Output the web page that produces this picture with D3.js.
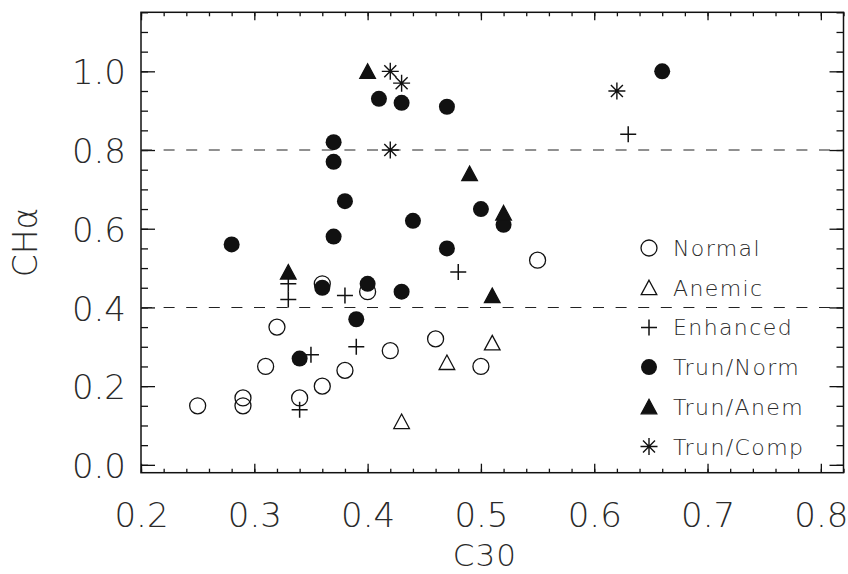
<!DOCTYPE html>
<html>
<head>
<meta charset="utf-8">
<script src="https://cdn.jsdelivr.net/npm/d3@7"></script>
<style>
  html, body { margin: 0; padding: 0; background: #fff; }
  svg text { font-family: "DejaVu Sans", sans-serif; font-weight: 200; fill: #2a2a2a; }
</style>
</head>
<body>
<svg id="chart" width="848" height="574"></svg>
<script>
// C30 vs CH-alpha, by class
const normalC30   = [0.25, 0.29, 0.29, 0.31, 0.32, 0.34, 0.36, 0.36, 0.38, 0.40, 0.42, 0.46, 0.50, 0.55];
const normalCHa   = [0.15, 0.17, 0.15, 0.25, 0.35, 0.17, 0.20, 0.46, 0.24, 0.44, 0.29, 0.32, 0.25, 0.52];

const anemicC30   = [0.43, 0.47, 0.51];
const anemicCHa   = [0.11, 0.26, 0.31];

const enhancedC30 = [0.33, 0.33, 0.34, 0.35, 0.38, 0.39, 0.48, 0.63];
const enhancedCHa = [0.46, 0.42, 0.14, 0.28, 0.43, 0.30, 0.49, 0.84];

const trunNormC30 = [0.28, 0.34, 0.36, 0.37, 0.37, 0.37, 0.38, 0.39, 0.40, 0.41, 0.43, 0.43, 0.44, 0.47, 0.47, 0.50, 0.52, 0.66];
const trunNormCHa = [0.56, 0.27, 0.45, 0.82, 0.77, 0.58, 0.67, 0.37, 0.46, 0.93, 0.92, 0.44, 0.62, 0.91, 0.55, 0.65, 0.61, 1.00];

const trunAnemC30 = [0.33, 0.40, 0.49, 0.51, 0.52];
const trunAnemCHa = [0.49, 1.00, 0.74, 0.43, 0.64];

const trunCompC30 = [0.42, 0.43, 0.42, 0.62];
const trunCompCHa = [1.00, 0.97, 0.80, 0.95];

const legendLabels = ["Normal", "Anemic", "Enhanced", "Trun/Norm", "Trun/Anem", "Trun/Comp"];
const legendMarkers = ["circleOpen", "triangleOpen", "plus", "circleFilled", "triangleFilled", "asterisk"];

const xMajorTicks = [0.2, 0.3, 0.4, 0.5, 0.6, 0.7, 0.8];
const yMajorTicks = [0.0, 0.2, 0.4, 0.6, 0.8, 1.0];
const guideLevels = [0.8, 0.4];

const svg = d3.select("#chart");
const plotLeft = 141, plotRight = 843.5, plotTop = 12.3, plotBottom = 472.7;

const x = d3.scaleLinear().domain([0.2, 0.82]).range([plotLeft, plotRight]);
const y = d3.scaleLinear().domain([-0.02, 1.15]).range([plotBottom, plotTop]);

const ink = "#111";
const xMinor = d3.range(0.2, 0.8201, 0.02).map(v => +v.toFixed(2));
const yMinor = d3.range(0.0, 1.1501, 0.05).map(v => +v.toFixed(2));

// inward ticks on all four sides
function tickAxis(axis, tf, size, values) {
  const g = svg.append("g").attr("transform", tf)
    .call(axis.tickValues(values).tickSize(size).tickFormat(""));
  g.select(".domain").remove();
  g.selectAll("line").attr("stroke", ink).attr("stroke-width", 1.3);
  return g;
}
tickAxis(d3.axisBottom(x), `translate(0,${plotBottom})`, -4, xMinor);
tickAxis(d3.axisBottom(x), `translate(0,${plotBottom})`, -9, xMajorTicks);
tickAxis(d3.axisTop(x), `translate(0,${plotTop})`, -4, xMinor);
tickAxis(d3.axisTop(x), `translate(0,${plotTop})`, -8, xMajorTicks);
tickAxis(d3.axisLeft(y), `translate(${plotLeft},0)`, -7, yMinor);
tickAxis(d3.axisLeft(y), `translate(${plotLeft},0)`, -14, yMajorTicks);
tickAxis(d3.axisRight(y), `translate(${plotRight},0)`, -7, yMinor);
tickAxis(d3.axisRight(y), `translate(${plotRight},0)`, -14, yMajorTicks);

// tick labels
const fmt = d3.format(".1f");
const xl = svg.append("g").attr("transform", `translate(0,${plotBottom})`)
  .call(d3.axisBottom(x).tickValues(xMajorTicks).tickSize(0).tickFormat(fmt));
xl.select(".domain").remove();
xl.selectAll("text").attr("y", 54.3).attr("dy", null)
  .style("font-size", "34px").style("font-family", "'DejaVu Sans', sans-serif").style("font-weight", 200).attr("fill", "#2a2a2a");

const yl = svg.append("g").attr("transform", `translate(${plotLeft},0)`)
  .call(d3.axisLeft(y).tickValues(yMajorTicks).tickSize(0).tickFormat(fmt));
yl.select(".domain").remove();
yl.selectAll("text").attr("x", -15).attr("dy", "0.37em")
  .style("font-size", "34px").style("font-family", "'DejaVu Sans', sans-serif").style("font-weight", 200).attr("fill", "#2a2a2a");

// frame
svg.append("rect").attr("x", plotLeft).attr("y", plotTop)
  .attr("width", plotRight - plotLeft).attr("height", plotBottom - plotTop)
  .attr("fill", "none").attr("stroke", ink).attr("stroke-width", 1.5);

// dashed reference levels
svg.selectAll("line.guide").data(guideLevels).join("line")
  .attr("class", "guide")
  .attr("x1", plotLeft).attr("x2", plotRight)
  .attr("y1", d => y(d)).attr("y2", d => y(d))
  .attr("stroke", "#222").attr("stroke-width", 1.1)
  .attr("stroke-dasharray", "11 11.6");

// axis titles
svg.append("text").attr("x", x(0.5) + 4).attr("y", 566)
  .attr("text-anchor", "middle").style("font-size", "31px").style("letter-spacing", "1px").text("C30");
svg.append("text").attr("transform", `translate(37,${(plotTop + plotBottom) / 2}) rotate(-90)`)
  .attr("text-anchor", "middle").style("font-size", "33px").text("CHα");

// markers
function drawMarker(g, type, cx, cy) {
  const s = g.append("g").attr("transform", `translate(${cx},${cy})`);
  if (type === "circleOpen") {
    s.append("circle").attr("r", 8).attr("fill", "none").attr("stroke", ink).attr("stroke-width", 1.3);
  } else if (type === "circleFilled") {
    s.append("circle").attr("r", 8).attr("fill", ink);
  } else if (type === "triangleOpen" || type === "triangleFilled") {
    const filled = type === "triangleFilled";
    s.append("path").attr("d", "M0,-7.5L7.8,7L-7.8,7Z")
      .attr("fill", filled ? ink : "none").attr("stroke", ink).attr("stroke-width", 1.3)
      .attr("stroke-linejoin", "miter");
  } else if (type === "plus") {
    s.append("path").attr("d", "M-8,0H8M0,-8V8").attr("stroke", ink).attr("stroke-width", 1.5);
  } else if (type === "asterisk") {
    const r = 8.5, d = 6;
    s.append("path").attr("d", `M0,${-r}V${r}M${-r},0H${r}M${-d},${-d}L${d},${d}M${-d},${d}L${d},${-d}`)
      .attr("stroke", ink).attr("stroke-width", 1.4);
  }
}

const series = [
  { xs: normalC30,   ys: normalCHa,   marker: "circleOpen" },
  { xs: anemicC30,   ys: anemicCHa,   marker: "triangleOpen" },
  { xs: enhancedC30, ys: enhancedCHa, marker: "plus" },
  { xs: trunNormC30, ys: trunNormCHa, marker: "circleFilled" },
  { xs: trunAnemC30, ys: trunAnemCHa, marker: "triangleFilled" },
  { xs: trunCompC30, ys: trunCompCHa, marker: "asterisk" }
];

const pts = svg.append("g");
series.forEach(sr => {
  sr.xs.forEach((v, i) => drawMarker(pts, sr.marker, x(v), y(sr.ys[i])));
});

// legend
const lg = svg.append("g");
legendLabels.forEach((lab, i) => {
  const cy = 248 + i * 39.7;
  drawMarker(lg, legendMarkers[i], 649, cy);
  lg.append("text").attr("x", 673).attr("y", cy + 8)
    .style("font-size", "22px").style("letter-spacing", "1.4px").text(lab);
});
</script>
</body>
</html>
